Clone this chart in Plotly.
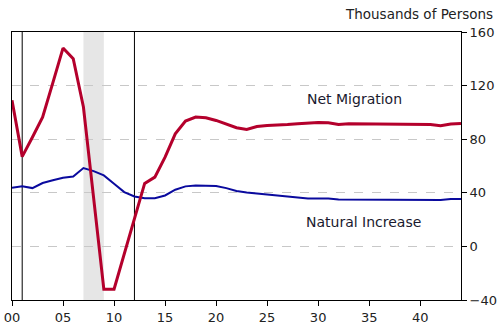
import plotly.graph_objects as go

years = list(range(2000, 2045))
net_migration = [109, 67, 81.5, 96.5, 122, 148, 140, 104, 36, -32, -32, -5, 22, 47,
                 51.7, 66.6, 84, 93.5, 96.5, 96, 94, 91.5, 88.6, 87.3, 89.5, 90.3,
                 90.5, 91, 91.6, 92.3, 92.5, 92.3, 91, 91.5, 91.5, 91.5, 91.5, 91,
                 91, 91, 91, 91, 90, 91.3, 91.8]
natural_increase = [43.8, 44.8, 43.5, 47.3, 49.3, 51.3, 52.2, 58.5, 56.2, 53, 46.8,
                    40.5, 37.3, 36, 36, 38, 42.3, 44.8, 45.5, 45.5, 45, 43.5, 41.3,
                    40.3, 39.5, 38.8, 38, 37.5, 36.8, 35.8, 35.8, 35.8, 35, 35, 35,
                    35, 35, 34.6, 34.6, 34.6, 34.6, 34.6, 34.6, 35.3, 35.3]
x_tick_vals = list(range(2000, 2045, 5))
x_tick_text = ["00", "05", "10", "15", "20", "25", "30", "35", "40"]
y_tick_vals = [-40, 0, 40, 80, 120, 160]
vlines = [2001, 2012]
shade = [2007, 2009]

font = "DejaVu Sans"
fig = go.Figure()
fig.add_trace(go.Scatter(x=years, y=natural_increase, mode="lines",
                         line=dict(color="#0a0a9e", width=2), hoverinfo="skip"))
fig.add_trace(go.Scatter(x=years, y=net_migration, mode="lines",
                         line=dict(color="#b4002c", width=3), hoverinfo="skip"))

fig.add_shape(type="rect", xref="x", yref="paper", x0=shade[0], x1=shade[1], y0=0, y1=1,
              fillcolor="#e6e6e6", line=dict(width=0), layer="below")
for v in vlines:
    fig.add_shape(type="line", xref="x", yref="paper", x0=v, x1=v, y0=0, y1=1,
                  line=dict(color="black", width=1), layer="below")

fig.add_annotation(x=2033.6, y=109.7, text="Net Migration", showarrow=False,
                   font=dict(family=font, size=14, color="#1a1a2e"))
fig.add_annotation(x=2034.4, y=18.1, text="Natural Increase", showarrow=False,
                   font=dict(family=font, size=14, color="#1a1a2e"))
fig.add_annotation(xref="paper", yref="paper", x=1.0755, y=1.0, yshift=8,
                   xanchor="right", yanchor="bottom", text="Thousands of Persons",
                   showarrow=False, font=dict(family=font, size=13.5, color="#222"))

fig.update_layout(
    width=500, height=330, margin=dict(l=12, r=39, t=32, b=30),
    paper_bgcolor="white", plot_bgcolor="white", showlegend=False,
    font=dict(family=font, size=12, color="#222"),
    xaxis=dict(range=[2000, 2044], tickvals=x_tick_vals, ticktext=x_tick_text,
               ticks="outside", ticklen=5, tickcolor="black", showline=True,
               linecolor="black", linewidth=1, mirror=True, showgrid=False,
               zeroline=False, tickfont=dict(size=13), automargin=False),
    yaxis=dict(range=[-40, 160], tickvals=y_tick_vals, side="right",
               ticks="outside", ticklen=5, tickcolor="black", showline=True,
               linecolor="black", linewidth=1, mirror=True, showgrid=True,
               gridcolor="#c8c8c8", griddash="dash", gridwidth=1, zeroline=False,
               tickfont=dict(size=13), automargin=False),
)
fig.write_html("out.html")
